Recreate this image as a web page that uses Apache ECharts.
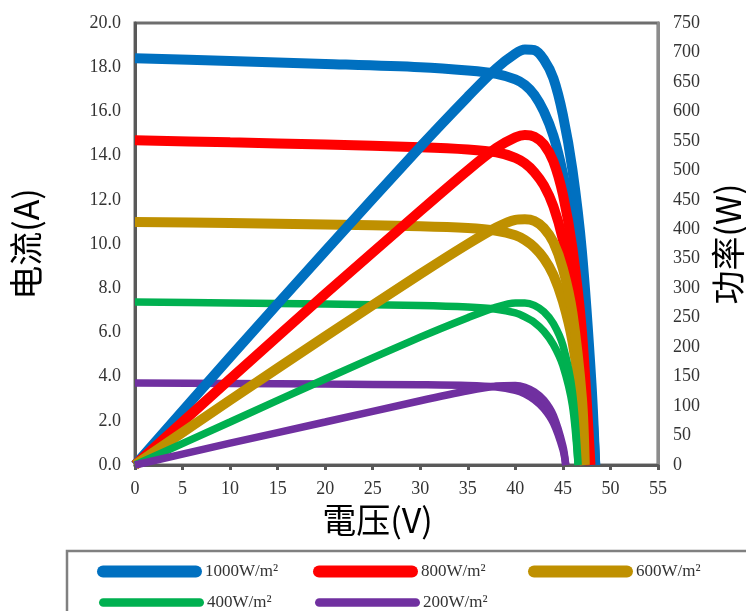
<!DOCTYPE html>
<html>
<head>
<meta charset="utf-8">
<script src="https://cdn.jsdelivr.net/npm/echarts@6/dist/echarts.min.js"></script>
<style>
  html, body { margin: 0; padding: 0; background: #fff; }
  #main { width: 746px; height: 611px; }
</style>
</head>
<body>
<div id="main"></div>
<script>
// irradiance levels (legend names)
const levels = ['1000W/m²', '800W/m²', '600W/m²', '400W/m²', '200W/m²'];

// voltage (V), current (A), power (W)
const volt1000 = [0, 10, 20, 30, 35, 38, 40, 41, 42, 43, 44, 45, 46, 47, 48, 48.4];
const amp1000  = [18.40, 18.28, 18.15, 18.00, 17.85, 17.70, 17.45, 17.20, 16.75, 16.00, 14.90, 13.20, 10.90, 7.70, 2.90, 0];
const watt1000 = [0, 183, 363, 540, 625, 673, 698, 705, 704, 688, 656, 594, 501, 362, 139, 0];

const volt800 = [0, 10, 20, 30, 35, 38, 40, 41, 42, 43, 44, 45, 46, 47, 47.9];
const amp800  = [14.70, 14.60, 14.50, 14.38, 14.28, 14.15, 13.90, 13.65, 13.25, 12.65, 11.70, 10.20, 8.00, 4.80, 0];
const watt800 = [0, 146, 290, 431, 500, 538, 556, 560, 557, 544, 515, 459, 368, 226, 0];

const volt600 = [0, 10, 20, 30, 35, 38, 40, 41, 42, 43, 44, 45, 46, 47, 47.3];
const amp600  = [11.00, 10.95, 10.88, 10.80, 10.72, 10.60, 10.40, 10.18, 9.85, 9.35, 8.60, 7.40, 5.60, 2.40, 0];
const watt600 = [0, 110, 218, 324, 375, 403, 416, 417, 414, 402, 378, 333, 258, 113, 0];

const volt400 = [0, 10, 20, 30, 35, 38, 40, 41, 42, 43, 44, 45, 46, 46.6];
const amp400  = [7.38, 7.33, 7.28, 7.22, 7.15, 7.05, 6.88, 6.70, 6.45, 6.05, 5.45, 4.50, 2.70, 0];
const watt400 = [0, 73, 146, 217, 250, 268, 275, 275, 271, 260, 240, 203, 124, 0];

const volt200 = [0, 10, 20, 30, 35, 38, 40, 41, 42, 43, 44, 45, 45.3];
const amp200  = [3.71, 3.69, 3.66, 3.63, 3.60, 3.53, 3.38, 3.22, 2.95, 2.55, 1.90, 0.70, 0];
const watt200 = [0, 37, 73, 109, 126, 134, 135, 132, 124, 110, 84, 32, 0];

const curves = [
  [volt1000, amp1000, watt1000],
  [volt800, amp800, watt800],
  [volt600, amp600, watt600],
  [volt400, amp400, watt400],
  [volt200, amp200, watt200]
];

const colors = ['#0070C0', '#FF0000', '#BF9000', '#00B050', '#7030A0'];
const widths = [10, 10, 10, 7.5, 7.5];

const pair = (xs, ys) => xs.map((x, i) => [x, ys[i]]);

function makeSeries(k, axis) {
  return curves.map((c, i) => ({
    name: levels[i],
    type: 'line',
    yAxisIndex: axis,
    smooth: 0.3,
    showSymbol: false,
    symbol: 'none',
    itemStyle: { color: colors[i], borderWidth: 0 },
    lineStyle: { color: colors[i], width: widths[i] },
    data: pair(c[0], c[k])
  }));
}

// one small legend per item so the columns line up like the original
const legendSpots = [[92, 558], [308, 558], [523, 558], [94, 589], [310, 589]];
const iconW = 105;
const capsule = h => 'path://M' + h / 2 + ',0 H' + (iconW - h / 2) + ' A' + h / 2 + ',' + h / 2 +
  ' 0 0 1 ' + (iconW - h / 2) + ',' + h + ' H' + h / 2 + ' A' + h / 2 + ',' + h / 2 + ' 0 0 1 ' + h / 2 + ',0 Z';
const legends = levels.map((name, i) => {
  const h = i < 3 ? 12 : 8.5;
  return {
    data: [name],
    left: legendSpots[i][0], top: legendSpots[i][1],
    itemWidth: iconW, itemHeight: h,
    symbolKeepAspect: false,
    icon: capsule(h),
    textStyle: { fontFamily: 'Liberation Serif', fontSize: 17, color: '#333', padding: [0, 0, 0, -2] }
  };
});

const tickFont = { fontFamily: 'Liberation Serif', fontSize: 18, color: '#333' };
const nameFont = { fontFamily: 'Noto Sans CJK SC', fontSize: 34, color: '#000' };

let chart = echarts.init(document.getElementById('main'));
chart.setOption({
  animation: false,
  grid: {
    left: 135, right: 88, top: 23, bottom: 146,
    outerBoundsMode: 'none',
    containLabel: false,
    show: true, borderColor: '#6e6e6e', borderWidth: 3
  },
  xAxis: {
    type: 'value', min: 0, max: 55, interval: 5,
    name: '電压(V)', nameLocation: 'middle', nameGap: 33,
    nameTextStyle: Object.assign({ padding: [0, 38, 0, 0] }, nameFont),
    splitLine: { show: false },
    axisLine: { lineStyle: { color: '#595959', width: 3 } },
    axisTick: { show: true, length: 5, lineStyle: { color: '#595959', width: 3 } },
    axisLabel: Object.assign({ margin: 15 }, tickFont)
  },
  yAxis: [{
    type: 'value', min: 0, max: 20, interval: 2,
    name: '电流(A)', nameLocation: 'middle', nameGap: 92, nameRotate: 90,
    nameTextStyle: nameFont,
    splitLine: { show: false },
    axisLine: { show: true, lineStyle: { color: '#595959', width: 3 } },
    axisTick: { show: false },
    axisLabel: Object.assign({ margin: 14, formatter: v => v.toFixed(1) }, tickFont)
  }, {
    type: 'value', min: 0, max: 750, interval: 50, position: 'right',
    name: '功率(W)', nameLocation: 'middle', nameGap: 53, nameRotate: 90,
    nameTextStyle: nameFont,
    splitLine: { show: false },
    axisLine: { show: true, lineStyle: { color: '#8c8c8c', width: 3 } },
    axisTick: { show: false },
    axisLabel: Object.assign({ margin: 15 }, tickFont)
  }],
  legend: legends,
  graphic: [{
    type: 'rect',
    shape: { x: 67, y: 551, width: 700, height: 80 },
    style: { fill: 'none', stroke: '#808080', lineWidth: 2.5 },
    silent: true
  }],
  // current curves first, power curves drawn over them
  series: makeSeries(1, 0).concat(makeSeries(2, 1))
});
</script>
</body>
</html>
